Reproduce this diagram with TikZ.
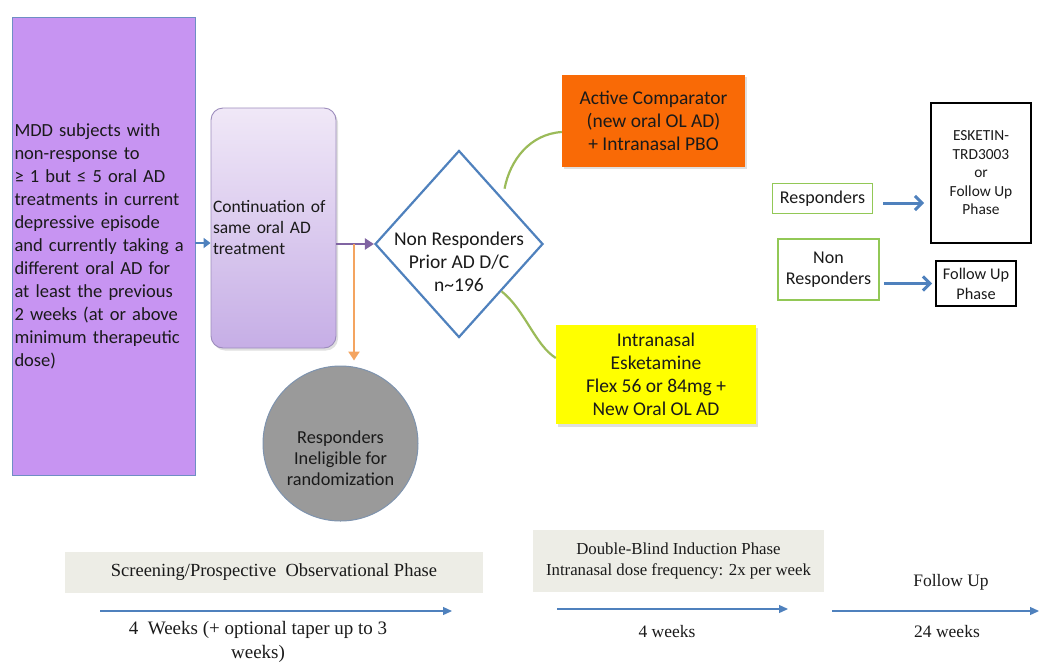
\documentclass[tikz,border=0pt]{standalone}
\usepackage{fontspec}
\setmainfont{Liberation Serif}
\newfontfamily\calibf{Carlito}
\usetikzlibrary{arrows.meta,shapes.geometric,calc,shadows}
\definecolor{mddpurple}{HTML}{C794F2}
\definecolor{mddedge}{HTML}{6F8EC4}
\definecolor{conttop}{HTML}{F0E8F7}
\definecolor{contbot}{HTML}{C6AEE6}
\definecolor{contedge}{HTML}{9C8CBC}
\definecolor{diablue}{HTML}{4F81BD}
\definecolor{orgfill}{HTML}{F96A06}
\definecolor{yelfill}{HTML}{FFFF00}
\definecolor{grnline}{HTML}{9BBB59}
\definecolor{grnbox}{HTML}{92C856}
\definecolor{circfill}{HTML}{9A9A9A}
\definecolor{circedge}{HTML}{7E93AE}
\definecolor{purparrow}{HTML}{8064A2}
\definecolor{orgarrow}{HTML}{F4A460}
\definecolor{bandfill}{HTML}{EDEDE6}
\definecolor{bluearr}{HTML}{4F81BD}
\definecolor{txt}{HTML}{1A1A1A}
\tikzset{
  sanstext/.style={font=\calibf\fontsize{19.5}{23}\selectfont},
  boxbase/.style={inner sep=0pt, align=center, text=txt},
  softshadow/.style={drop shadow={opacity=0.25, shadow xshift=2pt, shadow yshift=-2.5pt}},
  greenbox/.style={boxbase, draw=grnbox, line width=1.6pt, font=\calibf\fontsize{18}{21}\selectfont},
  blackbox/.style={boxbase, draw=black, line width=1.8pt, font=\calibf\fontsize{15.4}{18.5}\selectfont},
  band/.style={boxbase, fill=bandfill},
  serif/.style={inner sep=0pt, align=center, text=txt, font=\fontsize{17.5}{24}\selectfont},
  timeline/.style={draw=bluearr, line width=1.3pt, -{Triangle[length=9pt,width=8pt]}},
  fatblue/.style={draw=bluearr, line width=3pt, -{Straight Barb[length=7pt,width=14pt]}},
  greencurve/.style={draw=grnline, line width=2.2pt},
}
\begin{document}
\begin{tikzpicture}[x=1pt,y=-1pt]
\useasboundingbox (0,0) rectangle (1047,662);

% left purple box
\node[boxbase, fill=mddpurple, draw=mddedge, line width=0.9pt, minimum width=183pt, minimum height=458pt,
      text width=178pt, align=left, font=\calibf\fontsize{18.5}{23}\selectfont] (mdd) at (103.5,246)
{MDD subjects with\\non-response to\\≥ 1 but ≤ 5 oral AD\\treatments in current\\depressive episode\\and currently taking a\\different oral AD for\\at least the previous\\2 weeks (at or above\\minimum therapeutic\\dose)};

% continuation box
\node[boxbase, rounded corners=12pt, top color=conttop, bottom color=contbot, draw=contedge, line width=0.9pt,
      softshadow, minimum width=125pt, minimum height=240pt, text width=121pt, align=left,
      font=\calibf\fontsize{17.5}{21}\selectfont] (cont) at (273.5,228)
{Continuation of\\same oral AD\\treatment};

% diamond
\node[diamond, draw=diablue, line width=2.2pt, fill=white, inner sep=0pt, minimum width=168pt, minimum height=187pt] (dia) at (459,244) {};
\node[boxbase, sanstext] (diatxt) at (459,262) {Non Responders\\Prior AD D/C\\n\textasciitilde196};

% orange and yellow boxes
\node[boxbase, fill=orgfill, softshadow, minimum width=183pt, minimum height=92pt, sanstext] (org) at (653.5,120.5)
{Active Comparator\\(new oral OL AD)\\+ Intranasal PBO};
\node[boxbase, fill=yelfill, softshadow, minimum width=200pt, minimum height=99pt, sanstext] (yel) at (656,374.5)
{Intranasal\\Esketamine\\Flex 56 or 84mg +\\New Oral OL AD};

% gray circle
\node[circle, fill=circfill, draw=circedge, line width=1pt, minimum size=155pt, inner sep=0pt] (resp) at (340.5,443.5) {};
\node[boxbase, font=\calibf\fontsize{18.3}{21}\selectfont] (resptxt) at ($(resp.center)+(0,15)$)
{Responders\\Ineligible for\\randomization};

% connectors left part
\draw[draw=bluearr, line width=2.2pt, -{Triangle[length=7pt,width=10pt]}] (mdd.east |- 0,243) -- (cont.west |- 0,243);
\coordinate (split) at (354,244);
\draw[draw=purparrow, line width=2.6pt, -{Triangle[length=9pt,width=11pt]}] (cont.east |- dia.west) -- (dia.west);
\draw[draw=orgarrow, line width=2.6pt, -{Triangle[length=9pt,width=11pt]}] (split) -- ($(split |- resp.north)+(0,-5)$);

% green curves
\draw[greencurve] ($(dia.north east)+(3,-8)$) .. controls (510,160) and (530,134) .. (org.west |- 0,132);
\draw[greencurve] (dia.south east) .. controls (525,310) and (535,345) .. (yel.west |- 0,358);

% right side
\node[greenbox, minimum width=100pt, minimum height=30pt] (rb) at (822.5,198.5) {Responders};
\node[greenbox, minimum width=101pt, minimum height=61pt] (nb) at (828.5,269.5) {Non\\Responders};
\node[blackbox, minimum width=100pt, minimum height=140pt] (esk) at (981,173)
{ESKETIN-\\TRD3003\\or\\Follow Up\\Phase};
\node[blackbox, minimum width=80pt, minimum height=45pt, font=\calibf\fontsize{16.3}{20}\selectfont] (fu) at (976,283.5)
{Follow Up\\Phase};
\draw[fatblue, shorten <=10pt, shorten >=6pt] (rb.east |- 0,203) -- (esk.west |- 0,203);
\draw[fatblue, shorten <=4pt, shorten >=3pt] (nb.east |- fu.west) -- (fu.west);

% bottom timeline
\node[band, minimum width=418pt, minimum height=41pt, font=\fontsize{18.5}{21}\selectfont] (band1) at (274,572.5)
{Screening/Prospective\ \ Observational\ Phase};
\coordinate (a1s) at (100,611);
\coordinate (a1e) at (452,611);
\draw[timeline] (a1s) -- (a1e);
\node[serif, font=\fontsize{19}{24}\selectfont] (t1) at (258,642) {4\ \ Weeks (+ optional taper up to 3\\weeks)};

\node[band, minimum width=291pt, minimum height=62pt, font=\fontsize{16.8}{21}\selectfont] (band2) at (678.5,561)
{Double-Blind Induction Phase\\Intranasal dose frequency: 2x per week};
\coordinate (a2s) at (557,609);
\coordinate (a2e) at (788,609);
\draw[timeline] (a2s) -- (a2e);
\node[serif] (t2) at (667,632) {4 weeks};

\node[serif] (fuh) at (951,582) {Follow Up};
\coordinate (a3s) at (832,611);
\coordinate (a3e) at (1039,611);
\draw[timeline] (a3s) -- (a3e);
\node[serif] (t3) at (947,632) {24 weeks};
\end{tikzpicture}
\end{document}
